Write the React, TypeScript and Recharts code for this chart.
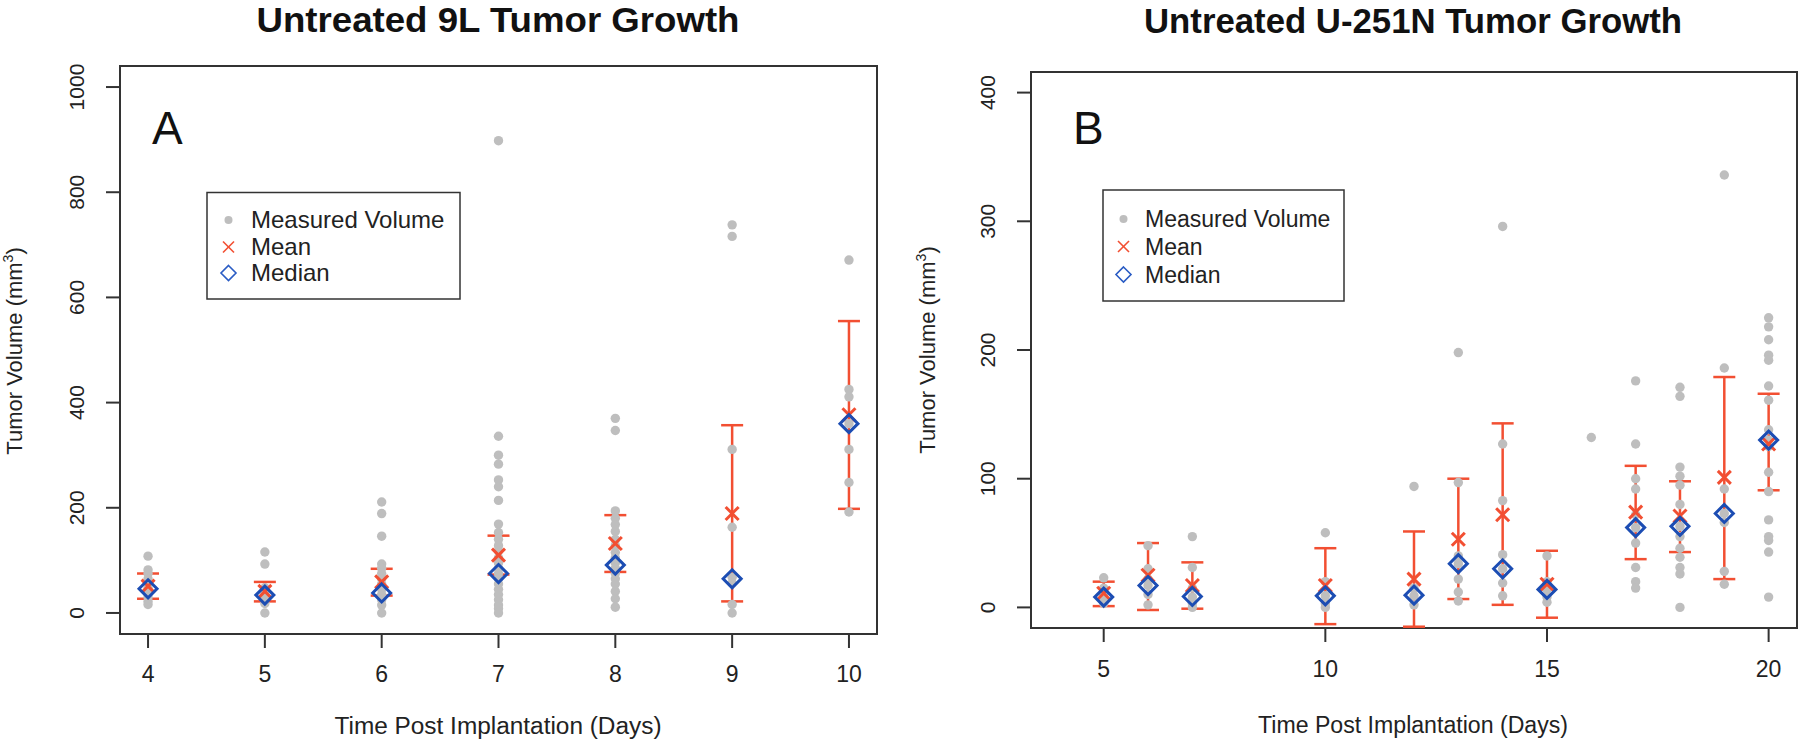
import React from "react";
import {
    ScatterChart,
    Scatter,
    XAxis,
    YAxis,
    ErrorBar,
    ReferenceArea
} from "recharts";

// ---- Panel A: 9L ----
const daysA = [4, 5, 6, 7, 8, 9, 10];
const volumesA: number[][] = [
    [108, 82, 75, 65, 55, 48, 40, 30, 22, 16],
    [116, 93, 48, 42, 35, 28, 18, 0],
    [211, 189, 146, 93, 85, 75, 65, 55, 45, 35, 25, 15, 0],
    [898, 336, 300, 283, 253, 240, 214, 169, 153, 140, 128, 118, 105, 95, 85, 75, 65, 55, 45, 35, 25, 15, 8, 0],
    [370, 347, 194, 180, 168, 155, 140, 128, 115, 105, 95, 85, 75, 65, 55, 41, 27, 11],
    [738, 716, 311, 163, 68, 57, 16, 0],
    [671, 425, 411, 360, 311, 248, 192]
];
const meanA = [51, 41, 59, 110, 132, 189, 377];
const medianA = [46, 34, 38, 75, 91, 65, 360];
const lowerA = [27, 22, 33, 73, 78, 22, 198];
const upperA = [75, 59, 84, 147, 186, 357, 555];
const xTicksA = [4, 5, 6, 7, 8, 9, 10];
const yTicksA = [0, 200, 400, 600, 800, 1000];

// ---- Panel B: U-251N ----
const dotDaysB = [5, 6, 7, 10, 12, 13, 14, 15, 16, 17, 18, 19, 20];
const volumesB: number[][] = [
    [23, 15, 10, 6, 3],
    [48, 30, 22, 17, 10, 2],
    [55, 31, 15, 8, 3, 0],
    [58, 20, 9, 3, 0],
    [94, 15, 9, 2],
    [198, 97, 40, 34, 22, 12, 5],
    [296, 127, 83, 41, 30, 19, 9],
    [40, 20, 14, 8, 4],
    [132],
    [176, 127, 100, 92, 72, 62, 50, 31, 20, 15],
    [171, 164, 109, 102, 95, 80, 63, 55, 46, 39, 31, 26, 0],
    [336, 186, 92, 73, 66, 28, 18],
    [225, 218, 208, 196, 192, 172, 161, 138, 130, 125, 105, 90, 68, 55, 52, 43, 8]
];
const statDaysB = [5, 6, 7, 10, 12, 13, 14, 15, 17, 18, 19, 20];
const meanB = [11, 25, 17, 17, 22, 53, 72, 18, 74, 71, 101, 127];
const medianB = [8, 17, 8.5, 9, 9.5, 34, 30, 14, 62, 63, 73, 130];
const lowerB = [1, -2, -1, -13, -15, 6.5, 2, -8, 37.5, 43, 22, 91];
const upperB = [20, 50, 35, 46, 59, 100, 143, 44, 110, 98, 179, 166];
const xTicksB = [5, 10, 15, 20];
const yTicksB = [0, 100, 200, 300, 400];

const FONT = "'Liberation Sans', Arial, sans-serif";
const GRAY = "#bebebe";
const RED = "#f24f32";
const BLUE = "#1c4db3";
const INK = "#333";

function buildDots(days: number[], vols: number[][]) {
    const out: { x: number; v: number }[] = [];
    days.forEach((d, i) => vols[i].forEach(v => out.push({ x: d, v })));
    return out;
}

function buildStats(days: number[], mean: number[], median: number[], lower: number[], upper: number[]) {
    return days.map((d, i) => ({
        x: d,
        mean: mean[i],
        median: median[i],
        err: [mean[i] - lower[i], upper[i] - mean[i]]
    }));
}

const Dot = (p: any) => <circle cx={p.cx} cy={p.cy} r={4.7} fill={GRAY} />;

const MeanMark = (p: any) => {
    const s = 6.5;
    return (
        <g stroke={RED} strokeWidth={3}>
            <line x1={p.cx - s} y1={p.cy - s} x2={p.cx + s} y2={p.cy + s} />
            <line x1={p.cx - s} y1={p.cy + s} x2={p.cx + s} y2={p.cy - s} />
        </g>
    );
};

const MedianMark = (p: any) => {
    const s = 9;
    const { cx, cy } = p;
    return (
        <polygon
            points={`${cx},${cy - s} ${cx + s},${cy} ${cx},${cy + s} ${cx - s},${cy}`}
            fill="none"
            stroke={BLUE}
            strokeWidth={3}
        />
    );
};

const YTick = (p: any) => {
    const bx = p.x - 20;
    return (
        <text x={bx} y={p.y} transform={`rotate(-90 ${bx} ${p.y})`} textAnchor="middle"
            fontSize={21} fill="#222" fontFamily={FONT}>
            {p.payload.value}
        </text>
    );
};

interface PanelProps {
    dots: { x: number; v: number }[];
    stats: { x: number; mean: number; median: number; err: number[] }[];
    xDomain: [number, number];
    yDomain: [number, number];
    xTicks: number[];
    yTicks: number[];
    margin: { top: number; right: number; bottom: number; left: number };
    yWidth: number;
    xHeight: number;
    tickMargin: number;
}

function Panel({ dots, stats, xDomain, yDomain, xTicks, yTicks, margin, yWidth, xHeight, tickMargin }: PanelProps) {
    return (
        <ScatterChart width={900} height={743} margin={margin}>
            <XAxis
                type="number"
                dataKey="x"
                domain={xDomain}
                ticks={xTicks}
                interval={0}
                allowDataOverflow
                height={xHeight}
                axisLine={false}
                tickSize={14}
                tickMargin={tickMargin}
                tickLine={{ stroke: INK, strokeWidth: 2 }}
                tick={{ fontSize: 23, fill: "#222", fontFamily: FONT }}
            />
            <YAxis
                type="number"
                domain={yDomain}
                ticks={yTicks}
                interval={0}
                allowDataOverflow
                width={yWidth}
                axisLine={false}
                tickSize={14}
                tickLine={{ stroke: INK, strokeWidth: 2 }}
                tick={<YTick />}
            />
            <ReferenceArea
                x1={xDomain[0]}
                x2={xDomain[1]}
                y1={yDomain[0]}
                y2={yDomain[1]}
                fill="none"
                stroke={INK}
                strokeWidth={2}
                strokeOpacity={1}
            />
            <Scatter data={dots} dataKey="v" shape={Dot} isAnimationActive={false} />
            <Scatter data={stats} dataKey="mean" shape={MeanMark} isAnimationActive={false}>
                <ErrorBar dataKey="err" direction="y" width={11} stroke={RED} strokeWidth={2.5} />
            </Scatter>
            <Scatter data={stats} dataKey="median" shape={MedianMark} isAnimationActive={false} />
        </ScatterChart>
    );
}

function LegendBox({ x, y, w, h, sx, tx, rows, fs }: { x: number; y: number; w: number; h: number; sx: number; tx: number; rows: number[]; fs: number }) {
    return (
        <g>
            <rect x={x} y={y} width={w} height={h} fill="white" stroke={INK} strokeWidth={1.5} />
            <circle cx={sx} cy={rows[0]} r={4} fill={GRAY} />
            <g stroke={RED} strokeWidth={1.6}>
                <line x1={sx - 5.5} y1={rows[1] - 5.5} x2={sx + 5.5} y2={rows[1] + 5.5} />
                <line x1={sx - 5.5} y1={rows[1] + 5.5} x2={sx + 5.5} y2={rows[1] - 5.5} />
            </g>
            <polygon
                points={`${sx},${rows[2] - 7.5} ${sx + 7.5},${rows[2]} ${sx},${rows[2] + 7.5} ${sx - 7.5},${rows[2]}`}
                fill="none" stroke="#2a5cc4" strokeWidth={1.6}
            />
            <g fontSize={fs} fill="#222" fontFamily={FONT}>
                <text x={tx} y={rows[0] + 8}>Measured Volume</text>
                <text x={tx} y={rows[1] + 8}>Mean</text>
                <text x={tx} y={rows[2] + 8}>Median</text>
            </g>
        </g>
    );
}

export default function App() {
    const dotsA = buildDots(daysA, volumesA);
    const statsA = buildStats(daysA, meanA, medianA, lowerA, upperA);
    const dotsB = buildDots(dotDaysB, volumesB);
    const statsB = buildStats(statDaysB, meanB, medianB, lowerB, upperB);

    return (
        <div style={{ position: "absolute", left: 0, top: 0, width: 1800, height: 743, background: "#fff", overflow: "hidden" }}>
            {/* Panel A */}
            <div style={{ position: "absolute", left: 0, top: 0 }}>
                <Panel
                    dots={dotsA}
                    stats={statsA}
                    xDomain={[3.76, 10.24]}
                    yDomain={[-40, 1040]}
                    xTicks={xTicksA}
                    yTicks={yTicksA}
                    margin={{ top: 66, right: 23, bottom: 0, left: 0 }}
                    yWidth={120}
                    xHeight={109}
                    tickMargin={18}
                />
            </div>
            {/* Panel B */}
            <div style={{ position: "absolute", left: 900, top: 0 }}>
                <Panel
                    dots={dotsB}
                    stats={statsB}
                    xDomain={[3.36, 20.64]}
                    yDomain={[-16, 416]}
                    xTicks={xTicksB}
                    yTicks={yTicksB}
                    margin={{ top: 72, right: 3, bottom: 0, left: 0 }}
                    yWidth={131}
                    xHeight={115}
                    tickMargin={19}
                />
            </div>
            {/* Titles, labels, legends */}
            <svg width={1800} height={743} style={{ position: "absolute", left: 0, top: 0, pointerEvents: "none" }}>
                <g fontFamily={FONT} fill="#111">
                    <text x={498} y={32} textAnchor="middle" fontSize={35} fontWeight="bold"
                        textLength={483} lengthAdjust="spacingAndGlyphs">Untreated 9L Tumor Growth</text>
                    <text x={1413} y={33} textAnchor="middle" fontSize={35} fontWeight="bold"
                        textLength={538} lengthAdjust="spacingAndGlyphs">Untreated U-251N Tumor Growth</text>
                    <text x={152} y={144} fontSize={46}>A</text>
                    <text x={1073} y={144} fontSize={46}>B</text>
                </g>
                <g fontFamily={FONT} fill="#222" fontSize={23}>
                    <text x={498} y={734} textAnchor="middle" textLength={327} lengthAdjust="spacingAndGlyphs">Time Post Implantation (Days)</text>
                    <text x={1413} y={733} textAnchor="middle" textLength={310} lengthAdjust="spacingAndGlyphs">Time Post Implantation (Days)</text>
                </g>
                <g fontFamily={FONT} fill="#222" fontSize={22}>
                    <text x={21.5} y={351} transform="rotate(-90 21.5 351)" textAnchor="middle">
                        Tumor Volume (mm<tspan dy={-9} fontSize={14}>3</tspan><tspan dy={9}>)</tspan>
                    </text>
                    <text x={935} y={350} transform="rotate(-90 935 350)" textAnchor="middle">
                        Tumor Volume (mm<tspan dy={-9} fontSize={14}>3</tspan><tspan dy={9}>)</tspan>
                    </text>
                </g>
                <LegendBox x={207} y={192.5} w={253} h={106.5} sx={228.5} tx={251} rows={[220, 247, 273]} fs={24} />
                <LegendBox x={1103} y={190} w={241} h={111} sx={1123.5} tx={1145} rows={[219, 246.5, 274.5]} fs={23} />
            </svg>
        </div>
    );
}
